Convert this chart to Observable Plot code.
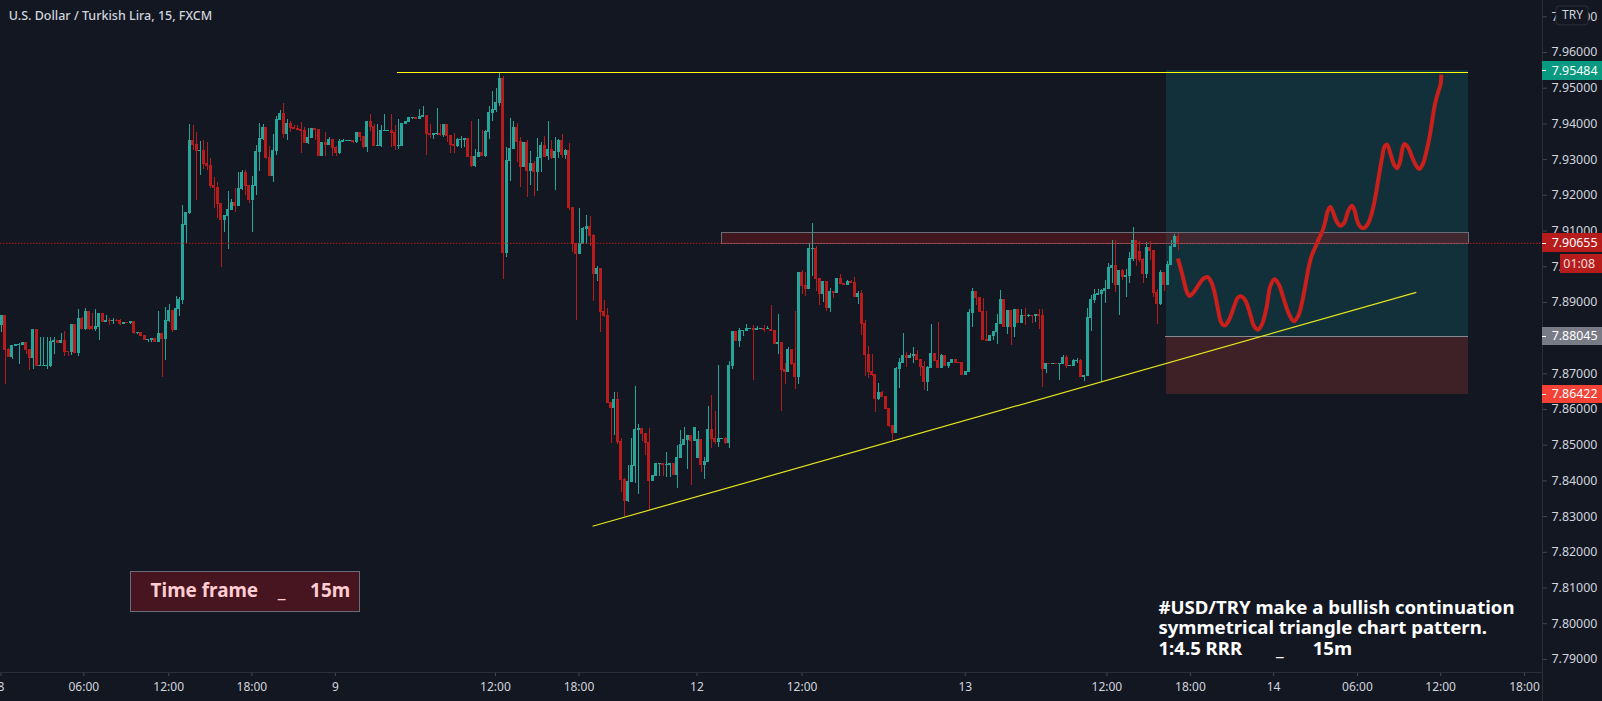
<!DOCTYPE html>
<html>
<head>
<meta charset="utf-8">
<script src="https://cdn.jsdelivr.net/npm/d3@7"></script>
<script src="https://cdn.jsdelivr.net/npm/@observablehq/plot@0.6"></script>
<style>html,body{margin:0;padding:0;background:#131722;overflow:hidden}svg{display:block}</style>
</head>
<body>
<div id="chart"></div>
<script>
// 15-minute USD/TRY candles, one value per bar
const opens = [
7.8834,7.8864,7.8768,7.8746,7.8777,7.8779,7.8779,7.8788,7.8768,7.8743,
7.8824,7.8720,7.8721,7.8721,7.8720,7.8788,7.8793,7.8785,7.8793,7.8762,
7.8760,7.8838,7.8757,7.8855,7.8824,7.8874,7.8833,7.8824,7.8830,7.8869,
7.8844,7.8849,7.8846,7.8849,7.8849,7.8838,7.8844,7.8841,7.8846,7.8813,
7.8816,7.8807,7.8793,7.8793,7.8799,7.8788,7.8813,7.8796,7.8846,7.8877,
7.8821,7.8880,7.8905,7.9115,7.9149,7.9353,7.9342,7.9323,7.9325,7.9289,
7.9283,7.9227,7.9222,7.9177,7.9129,7.9141,7.9157,7.9180,7.9169,7.9216,
7.9264,7.9227,7.9185,7.9225,7.9320,7.9356,7.9390,7.9306,7.9253,7.9323,
7.9409,7.9429,7.9370,7.9401,7.9390,7.9387,7.9384,7.9381,7.9345,7.9359,
7.9387,7.9384,7.9309,7.9348,7.9339,7.9356,7.9334,7.9317,7.9348,7.9351,
7.9351,7.9353,7.9348,7.9376,7.9365,7.9334,7.9407,7.9393,7.9337,7.9337,
7.9379,7.9379,7.9381,7.9376,7.9337,7.9337,7.9398,7.9404,7.9415,7.9418,
7.9412,7.9418,7.9423,7.9373,7.9367,7.9370,7.9373,7.9367,7.9398,7.9367,
7.9342,7.9337,7.9353,7.9353,7.9359,7.9309,7.9281,7.9306,7.9320,7.9309,
7.9376,7.9429,7.9437,7.9457,7.9527,7.9037,7.9295,7.9328,7.9390,7.9351,
7.9278,7.9348,7.9267,7.9289,7.9264,7.9303,7.9339,7.9309,7.9328,7.9303,
7.9320,7.9353,7.9311,7.9325,7.9166,7.9065,7.9034,7.9062,7.9104,7.9113,
7.9087,7.8978,7.8995,7.8874,7.8863,7.8620,7.8603,7.8628,7.8510,7.8404,
7.8342,7.8395,7.8440,7.8541,7.8547,7.8533,7.8508,7.8398,7.8412,7.8446,
7.8449,7.8443,7.8443,7.8449,7.8415,7.8463,7.8499,7.8513,7.8527,7.8510,
7.8463,7.8516,7.8443,7.8451,7.8544,7.8519,7.8508,7.8516,7.8519,7.8505,
7.8720,7.8818,7.8790,7.8818,7.8818,7.8824,7.8827,7.8821,7.8824,7.8827,
7.8824,7.8824,7.8821,7.8782,7.8788,7.8712,7.8704,7.8768,7.8729,7.8690,
7.8984,7.8947,7.8936,7.9048,7.9051,7.8967,7.8922,7.8959,7.8883,7.8930,
7.8925,7.8967,7.8953,7.8947,7.8959,7.8956,7.8914,7.8925,7.8841,7.8754,
7.8706,7.8698,7.8628,7.8648,7.8636,7.8603,7.8555,7.8533,7.8712,7.8729,
7.8751,7.8743,7.8748,7.8754,7.8740,7.8720,7.8676,7.8715,7.8757,7.8737,
7.8715,7.8751,7.8720,7.8729,7.8740,7.8732,7.8732,7.8695,7.8704,7.8869,
7.8930,7.8914,7.8874,7.8796,7.8790,7.8804,7.8816,7.8838,7.8908,7.8830,
7.8877,7.8830,7.8880,7.8841,7.8863,7.8860,7.8863,7.8860,7.8866,7.8863,
7.8712,7.8729,7.8726,7.8729,7.8726,7.8726,7.8746,7.8720,7.8720,7.8734,
7.8737,7.8690,7.8692,7.8855,7.8905,7.8919,7.8922,7.8930,7.8936,7.8995,
7.9003,7.8947,7.8989,7.8970,7.8973,7.9020,7.9073,7.9043,7.9020,7.8978,
7.9054,7.9045,7.8928,7.8894,7.8984,7.8947,7.9003,7.9054,7.9085];
const closes = [
7.8864,7.8765,7.8746,7.8779,7.8782,7.8782,7.8788,7.8765,7.8743,7.8824,
7.8720,7.8723,7.8723,7.8723,7.8790,7.8793,7.8785,7.8793,7.8760,7.8760,
7.8838,7.8757,7.8855,7.8824,7.8874,7.8824,7.8824,7.8833,7.8869,7.8844,
7.8849,7.8846,7.8849,7.8846,7.8838,7.8844,7.8841,7.8846,7.8813,7.8816,
7.8805,7.8793,7.8796,7.8799,7.8788,7.8813,7.8796,7.8849,7.8877,7.8821,
7.8883,7.8908,7.9118,7.9152,7.9353,7.9339,7.9323,7.9325,7.9286,7.9281,
7.9225,7.9219,7.9174,7.9129,7.9143,7.9160,7.9180,7.9169,7.9219,7.9264,
7.9225,7.9185,7.9227,7.9323,7.9359,7.9390,7.9303,7.9253,7.9325,7.9412,
7.9429,7.9370,7.9401,7.9387,7.9384,7.9381,7.9379,7.9345,7.9362,7.9387,
7.9381,7.9309,7.9348,7.9339,7.9356,7.9331,7.9317,7.9351,7.9353,7.9353,
7.9353,7.9348,7.9376,7.9362,7.9334,7.9407,7.9390,7.9337,7.9339,7.9381,
7.9381,7.9381,7.9373,7.9337,7.9339,7.9400,7.9407,7.9418,7.9418,7.9412,
7.9421,7.9423,7.9370,7.9367,7.9373,7.9373,7.9367,7.9398,7.9365,7.9339,
7.9337,7.9356,7.9356,7.9359,7.9306,7.9281,7.9309,7.9320,7.9309,7.9379,
7.9432,7.9440,7.9460,7.9527,7.9037,7.9297,7.9331,7.9390,7.9348,7.9278,
7.9348,7.9267,7.9289,7.9264,7.9306,7.9339,7.9306,7.9328,7.9303,7.9323,
7.9353,7.9311,7.9325,7.9163,7.9062,7.9034,7.9065,7.9107,7.9113,7.9085,
7.8978,7.8995,7.8872,7.8860,7.8617,7.8603,7.8628,7.8508,7.8401,7.8342,
7.8398,7.8443,7.8544,7.8547,7.8530,7.8505,7.8398,7.8415,7.8449,7.8449,
7.8443,7.8446,7.8449,7.8415,7.8466,7.8502,7.8516,7.8527,7.8510,7.8550,
7.8516,7.8443,7.8454,7.8544,7.8516,7.8508,7.8519,7.8519,7.8505,7.8723,
7.8818,7.8790,7.8821,7.8821,7.8827,7.8827,7.8821,7.8827,7.8827,7.8821,
7.8827,7.8818,7.8782,7.8788,7.8709,7.8704,7.8768,7.8726,7.8690,7.8984,
7.8945,7.8936,7.9051,7.9051,7.8964,7.8922,7.8959,7.8883,7.8930,7.8925,
7.8967,7.8950,7.8947,7.8959,7.8953,7.8914,7.8925,7.8838,7.8751,7.8704,
7.8695,7.8628,7.8648,7.8634,7.8600,7.8552,7.8533,7.8715,7.8732,7.8751,
7.8743,7.8751,7.8754,7.8737,7.8718,7.8676,7.8718,7.8757,7.8734,7.8715,
7.8751,7.8720,7.8732,7.8740,7.8729,7.8729,7.8695,7.8706,7.8872,7.8930,
7.8911,7.8872,7.8793,7.8790,7.8807,7.8818,7.8841,7.8908,7.8830,7.8877,
7.8830,7.8880,7.8841,7.8863,7.8860,7.8863,7.8860,7.8866,7.8860,7.8712,
7.8729,7.8726,7.8729,7.8726,7.8729,7.8746,7.8720,7.8723,7.8737,7.8737,
7.8690,7.8695,7.8858,7.8908,7.8922,7.8925,7.8933,7.8939,7.8998,7.9003,
7.8947,7.8989,7.8970,7.8975,7.9023,7.9073,7.9020,7.9017,7.8978,7.9054,
7.9043,7.8925,7.8894,7.8984,7.8947,7.9006,7.9057,7.9085,7.90655];
const highs = [
7.8864,7.8864,7.8770,7.8779,7.8782,7.8785,7.8788,7.8788,7.8768,7.8824,
7.8824,7.8802,7.8802,7.8802,7.8802,7.8802,7.8793,7.8813,7.8818,7.8762,
7.8838,7.8838,7.8880,7.8858,7.8883,7.8874,7.8869,7.8880,7.8869,7.8869,
7.8863,7.8855,7.8855,7.8852,7.8852,7.8844,7.8844,7.8846,7.8846,7.8816,
7.8816,7.8807,7.8796,7.8799,7.8799,7.8874,7.8813,7.8886,7.8894,7.8877,
7.8916,7.8914,7.9171,7.9152,7.9398,7.9395,7.9376,7.9351,7.9353,7.9348,
7.9303,7.9250,7.9236,7.9177,7.9143,7.9211,7.9188,7.9219,7.9264,7.9269,
7.9269,7.9227,7.9253,7.9339,7.9401,7.9398,7.9390,7.9337,7.9370,7.9421,
7.9437,7.9457,7.9412,7.9407,7.9395,7.9395,7.9404,7.9390,7.9387,7.9387,
7.9387,7.9384,7.9348,7.9376,7.9362,7.9356,7.9337,7.9356,7.9356,7.9353,
7.9353,7.9353,7.9376,7.9376,7.9365,7.9407,7.9426,7.9398,7.9398,7.9395,
7.9426,7.9381,7.9426,7.9395,7.9412,7.9400,7.9407,7.9418,7.9418,7.9418,
7.9440,7.9449,7.9423,7.9398,7.9373,7.9443,7.9398,7.9398,7.9398,7.9367,
7.9373,7.9359,7.9365,7.9359,7.9359,7.9407,7.9328,7.9412,7.9381,7.9381,
7.9449,7.9491,7.9499,7.9541,7.9533,7.9334,7.9415,7.9407,7.9401,7.9362,
7.9348,7.9353,7.9323,7.9295,7.9359,7.9348,7.9365,7.9407,7.9353,7.9362,
7.9356,7.9370,7.9328,7.9345,7.9166,7.9065,7.9163,7.9110,7.9143,7.9141,
7.9090,7.9001,7.8995,7.8905,7.8883,7.8620,7.8648,7.8648,7.8519,7.8407,
7.8443,7.8519,7.8664,7.8558,7.8547,7.8533,7.8547,7.8415,7.8449,7.8449,
7.8449,7.8480,7.8449,7.8449,7.8499,7.8541,7.8550,7.8527,7.8527,7.8550,
7.8538,7.8516,7.8466,7.8608,7.8639,7.8594,7.8723,7.8519,7.8522,7.8734,
7.8818,7.8818,7.8827,7.8821,7.8838,7.8827,7.8835,7.8833,7.8827,7.8835,
7.8833,7.8891,7.8821,7.8866,7.8788,7.8729,7.8774,7.8768,7.8874,7.8984,
7.8989,7.8984,7.9064,7.9121,7.9056,7.8967,7.8959,7.8959,7.8939,7.8930,
7.8967,7.8978,7.8953,7.8961,7.8961,7.8970,7.8930,7.8933,7.8849,7.8776,
7.8754,7.8698,7.8673,7.8650,7.8636,7.8603,7.8555,7.8718,7.8743,7.8813,
7.8760,7.8757,7.8774,7.8765,7.8740,7.8734,7.8720,7.8838,7.8757,7.8844,
7.8754,7.8751,7.8732,7.8740,7.8740,7.8732,7.8732,7.8706,7.8880,7.8939,
7.8930,7.8914,7.8911,7.8874,7.8807,7.8818,7.8866,7.8933,7.8908,7.8877,
7.8877,7.8880,7.8880,7.8880,7.8883,7.8866,7.8863,7.8866,7.8880,7.8880,
7.8729,7.8729,7.8729,7.8729,7.8729,7.8751,7.8751,7.8723,7.8740,7.8743,
7.8740,7.8695,7.8883,7.8919,7.8936,7.8936,7.8936,7.8961,7.9009,7.9073,
7.9073,7.8989,7.8992,7.8992,7.9040,7.9110,7.9073,7.9071,7.9023,7.9068,
7.9071,7.9045,7.8936,7.8989,7.8984,7.9015,7.9073,7.9090,7.9093];
const lows = [
7.8817,7.8670,7.8746,7.8740,7.8777,7.8726,7.8779,7.8754,7.8709,7.8712,
7.8720,7.8720,7.8721,7.8712,7.8718,7.8754,7.8785,7.8785,7.8748,7.8748,
7.8751,7.8757,7.8748,7.8824,7.8821,7.8821,7.8821,7.8818,7.8793,7.8844,
7.8844,7.8835,7.8838,7.8846,7.8835,7.8838,7.8841,7.8838,7.8810,7.8810,
7.8805,7.8793,7.8788,7.8788,7.8788,7.8788,7.8690,7.8737,7.8844,7.8816,
7.8821,7.8860,7.8894,7.9065,7.9146,7.9325,7.9185,7.9255,7.9272,7.9269,
7.9219,7.9163,7.9135,7.8998,7.9096,7.9048,7.9157,7.9152,7.9169,7.9213,
7.9199,7.9177,7.9096,7.9199,7.9267,7.9353,7.9300,7.9253,7.9236,7.9311,
7.9409,7.9359,7.9353,7.9376,7.9384,7.9381,7.9317,7.9345,7.9342,7.9359,
7.9353,7.9309,7.9309,7.9309,7.9339,7.9309,7.9309,7.9314,7.9348,7.9351,
7.9351,7.9345,7.9345,7.9351,7.9331,7.9320,7.9379,7.9337,7.9337,7.9334,
7.9379,7.9379,7.9334,7.9325,7.9328,7.9337,7.9398,7.9404,7.9412,7.9412,
7.9412,7.9418,7.9311,7.9359,7.9356,7.9367,7.9365,7.9362,7.9348,7.9317,
7.9317,7.9334,7.9331,7.9334,7.9306,7.9278,7.9278,7.9306,7.9309,7.9306,
7.9356,7.9407,7.9432,7.9449,7.8964,7.9026,7.9239,7.9328,7.9292,7.9222,
7.9278,7.9194,7.9227,7.9197,7.9211,7.9264,7.9306,7.9297,7.9300,7.9213,
7.9303,7.9303,7.9300,7.9157,7.9040,7.8849,7.9034,7.9062,7.9062,7.9056,
7.8902,7.8959,7.8816,7.8858,7.8617,7.8505,7.8527,7.8502,7.8367,7.8300,
7.8339,7.8395,7.8393,7.8362,7.8510,7.8471,7.8317,7.8398,7.8412,7.8412,
7.8412,7.8409,7.8409,7.8415,7.8379,7.8463,7.8499,7.8432,7.8387,7.8510,
7.8463,7.8423,7.8404,7.8451,7.8491,7.8502,7.8494,7.8516,7.8502,7.8491,
7.8712,7.8790,7.8774,7.8805,7.8818,7.8824,7.8681,7.8821,7.8824,7.8816,
7.8824,7.8818,7.8782,7.8754,7.8594,7.8670,7.8704,7.8723,7.8656,7.8670,
7.8922,7.8917,7.8936,7.8973,7.8930,7.8891,7.8900,7.8874,7.8872,7.8911,
7.8925,7.8950,7.8947,7.8947,7.8953,7.8914,7.8894,7.8807,7.8692,7.8687,
7.8692,7.8592,7.8625,7.8634,7.8600,7.8550,7.8513,7.8533,7.8659,7.8729,
7.8718,7.8743,7.8729,7.8737,7.8692,7.8653,7.8650,7.8715,7.8734,7.8715,
7.8715,7.8720,7.8715,7.8729,7.8729,7.8729,7.8695,7.8695,7.8704,7.8830,
7.8891,7.8872,7.8793,7.8790,7.8790,7.8793,7.8782,7.8838,7.8830,7.8810,
7.8779,7.8802,7.8841,7.8841,7.8835,7.8858,7.8841,7.8844,7.8824,7.8662,
7.8701,7.8726,7.8726,7.8726,7.8681,7.8726,7.8715,7.8720,7.8720,7.8729,
7.8690,7.8678,7.8692,7.8818,7.8897,7.8919,7.8676,7.8897,7.8936,7.8953,
7.8928,7.8863,7.8961,7.8914,7.8953,7.9015,7.9001,7.9012,7.8953,7.8967,
7.9017,7.8914,7.8838,7.8891,7.8930,7.8947,7.9003,7.9054,7.9045];

// hand-drawn forecast path: bar position and price
const forecastBars = [337.9,338.6,339.6,340.4,341.2,342.5,343.9,345.3,346.5,347.5,348.4,349.4,350.3,351.3,352.5,354.0,355.1,356.1,357.3,358.8,359.7,360.9,362.1,363.4,364.5,365.7,366.9,368.3,369.8,371.2,372.5,373.6,374.6,375.5,376.2,377.4,378.4,379.5,380.3,381.0,381.7,382.5,383.5,384.6,385.8,386.7,387.9,388.7,389.4,390.4,391.3,392.5,393.7,394.7,395.6,396.6,397.3,398.0,399.0,400.0,400.9,401.7,402.4,403.0,404.0,405.2,406.5,407.3,408.3,409.4,410.3,411.0,411.7,412.7,413.4,413.6];
const forecastPrices = [7.9023,7.8999,7.8961,7.8931,7.8918,7.8929,7.8950,7.8967,7.8971,7.8957,7.8929,7.8882,7.8845,7.8835,7.8849,7.8887,7.8913,7.8917,7.8905,7.8863,7.8835,7.8824,7.8840,7.8887,7.8947,7.8965,7.8950,7.8910,7.8868,7.8847,7.8863,7.8901,7.8952,7.8999,7.9027,7.9055,7.9078,7.9101,7.9129,7.9157,7.9167,7.9153,7.9127,7.9115,7.9125,7.9153,7.9171,7.9157,7.9129,7.9111,7.9108,7.9120,7.9153,7.9199,7.9251,7.9307,7.9337,7.9342,7.9316,7.9286,7.9276,7.9293,7.9330,7.9344,7.9335,7.9307,7.9281,7.9274,7.9288,7.9326,7.9368,7.9410,7.9452,7.9489,7.9512,7.9538];

// axes
const priceTicks = [7.79,7.80,7.81,7.82,7.83,7.84,7.85,7.86,7.87,7.88,7.89,7.90,7.91,7.92,7.93,7.94,7.95,7.96,7.97];
const timeTicks = [-0.3,23.5,47.9,71.8,95.8,141.8,165.8,199.7,229.9,276.8,317.5,341.5,365.4,389.5,413.4,437.5];
const timeLabels = ["8","06:00","12:00","18:00","9","12:00","18:00","12","12:00","13","12:00","18:00","14","06:00","12:00","18:00"];

// position tool levels
const target = 7.95484, entry = 7.88045, stop = 7.86422, lastPrice = 7.90655;
const boxStart = 334.6, boxEnd = 421.5;

// price tags on the right axis
const tagPrices = [target, lastPrice, entry, stop];
const tagLabels = ["7.95484","7.90655","7.88045","7.86422"];
const tagColors = ["#089981","#b71c1c","#787b86","#f44336"];

// drawings
const zoneTop = 7.9095, zoneBottom = 7.9064, zoneStart = 206.8;
const resistance = {price: 7.9543, start: 113.6, end: 421.5};
const trend = {x1: 169.7, y1: 7.8273, x2: 406.4, y2: 7.8928};

const bg = "#131722", teal = "#26a69a", red = "#b71c1c", axisLine = "#2a2e39", axisText = "#d1d4dc";
const font = "'Noto Sans', sans-serif";
const xLeft = -0.431, xAxisPos = 442.67, xRight = 460;
const tagHalf = 0.00262;

const bars = opens.map((o, i) => ({i, o, c: closes[i], h: highs[i], l: lows[i]}));
const up = d => d.c <= d.o ? false : true;
const forecast = forecastBars.map((x, i) => ({x, y: forecastPrices[i]}));
const tags = tagPrices.map((p, i) => ({p, t: tagLabels[i], c: tagColors[i]}));
const noteLines = [
  {x: 332.3, y: 7.8043, t: "#USD/TRY make a bullish continuation"},
  {x: 332.3, y: 7.7987, t: "symmetrical triangle chart pattern."},
  {x: 332.3, y: 7.7930, t: "1:4.5 RRR       _      15m"}
];

const chart = Plot.plot({
  width: 1602, height: 701,
  marginLeft: 0, marginRight: 60, marginTop: 0, marginBottom: 29,
  style: {background: bg, fontFamily: font, whiteSpace: "pre", display: "block", overflow: "hidden"},
  x: {domain: [xLeft, xAxisPos], axis: null},
  y: {domain: [7.78633, 7.97457], axis: null},
  marks: [
    // position tool
    Plot.rect([0], {x1: boxStart, x2: boxEnd, y1: entry, y2: target, fill: "#12303a", shapeRendering: "crispEdges"}),
    Plot.rect([0], {x1: boxStart, x2: boxEnd, y1: stop, y2: entry, fill: "#3e2127", shapeRendering: "crispEdges"}),
    // supply zone
    Plot.rect([0], {x1: zoneStart, x2: boxEnd, y1: zoneBottom, y2: zoneTop, fill: "#a9171b", fillOpacity: 0.3, stroke: "#6a6d78", strokeWidth: 1, shapeRendering: "crispEdges"}),
    // candles
    Plot.ruleX(bars, {x: "i", y1: "l", y2: "h", stroke: d => up(d) ? teal : red, strokeWidth: 1, shapeRendering: "crispEdges"}),
    Plot.rect(bars, {x1: d => d.i - 0.43, x2: d => d.i + 0.43, y1: "o", y2: "c", fill: d => up(d) ? teal : red, shapeRendering: "crispEdges"}),
    // entry edge of the position tool
    Plot.ruleY([entry], {x1: boxStart - 0.3, x2: boxEnd, stroke: "#868993", strokeWidth: 1, shapeRendering: "crispEdges"}),
    // last price line
    Plot.ruleY([lastPrice], {stroke: "#b71c1c", strokeWidth: 1, strokeDasharray: "1.5,1.5"}),
    // drawings
    Plot.ruleY([resistance.price], {x1: resistance.start, x2: resistance.end, stroke: "#ffff00", strokeWidth: 1, shapeRendering: "crispEdges"}),
    Plot.link([trend], {x1: "x1", y1: "y1", x2: "x2", y2: "y2", stroke: "#e3e31e", strokeWidth: 1.2}),
    Plot.line(forecast, {x: "x", y: "y", curve: "catmull-rom", stroke: "#c9201c", strokeWidth: 4, strokeLinecap: "butt", strokeLinejoin: "round"}),
    // notes
    Plot.rect([0], {x1: 37.0, x2: 102.9, y1: 7.8032, y2: 7.8145, fill: "#461520", stroke: "#6a6d78", strokeWidth: 1, shapeRendering: "crispEdges"}),
    Plot.text(["Time frame    _     15m"], {x: 42.7, y: 7.8093, text: d => d, textAnchor: "start", fill: "#ffcdd2", fontSize: 18.9, fontWeight: 700}),
    Plot.text(noteLines, {x: "x", y: "y", text: "t", textAnchor: "start", fill: "#ffffff", fontSize: 18.6, fontWeight: 700}),
    Plot.text(["U.S. Dollar / Turkish Lira, 15, FXCM"], {x: 1.95, y: 7.9701, text: d => d, textAnchor: "start", fill: axisText, fontSize: 12.5, fontWeight: 500}),
    // axes
    Plot.axisY({anchor: "right", ticks: priceTicks, tickFormat: d => d.toFixed(5), tickSize: 4, tickPadding: 5, stroke: "#434651", fill: axisText, fontSize: 12.4, label: null}),
    Plot.axisX({anchor: "bottom", ticks: timeTicks, tickFormat: d => timeLabels[timeTicks.indexOf(d)], tickSize: 4, tickPadding: 6, stroke: "#434651", fill: axisText, fontSize: 12, label: null}),
    Plot.ruleY([7.78633], {x1: xLeft, x2: xAxisPos, stroke: axisLine, strokeWidth: 1, shapeRendering: "crispEdges"}),
    Plot.ruleX([xAxisPos], {y1: 7.97457, y2: 7.77821, stroke: axisLine, strokeWidth: 1, shapeRendering: "crispEdges"}),
    // price tags
    Plot.rect(tags, {x1: xAxisPos, x2: xRight, y1: d => d.p - tagHalf, y2: d => d.p + tagHalf, fill: "c", shapeRendering: "crispEdges"}),
    Plot.ruleY(tags, {y: "p", x1: xAxisPos, x2: xAxisPos + 1.15, stroke: "#ffffff", strokeWidth: 1, shapeRendering: "crispEdges"}),
    Plot.text(tags, {x: 445.3, y: "p", text: "t", textAnchor: "start", fill: "#ffffff", fontSize: 12.4}),
    Plot.rect([0], {x1: 447.8, x2: xRight, y1: 7.8982, y2: 7.9034, fill: "#b71c1c", shapeRendering: "crispEdges"}),
    Plot.text(["01:08"], {x: 453.2, y: 7.9008, text: d => d, fill: "#f7dede", fontSize: 12.4}),
    // currency button
    Plot.rect([0], {x1: 446.7, x2: 455.9, y1: 7.9676, y2: 7.9729, fill: bg, stroke: axisLine, strokeWidth: 1, rx: 3}),
    Plot.text(["TRY"], {x: 451.3, y: 7.9704, text: d => d, fill: axisText, fontSize: 12})
  ]
});
document.getElementById("chart").append(chart);
</script>
</body>
</html>
